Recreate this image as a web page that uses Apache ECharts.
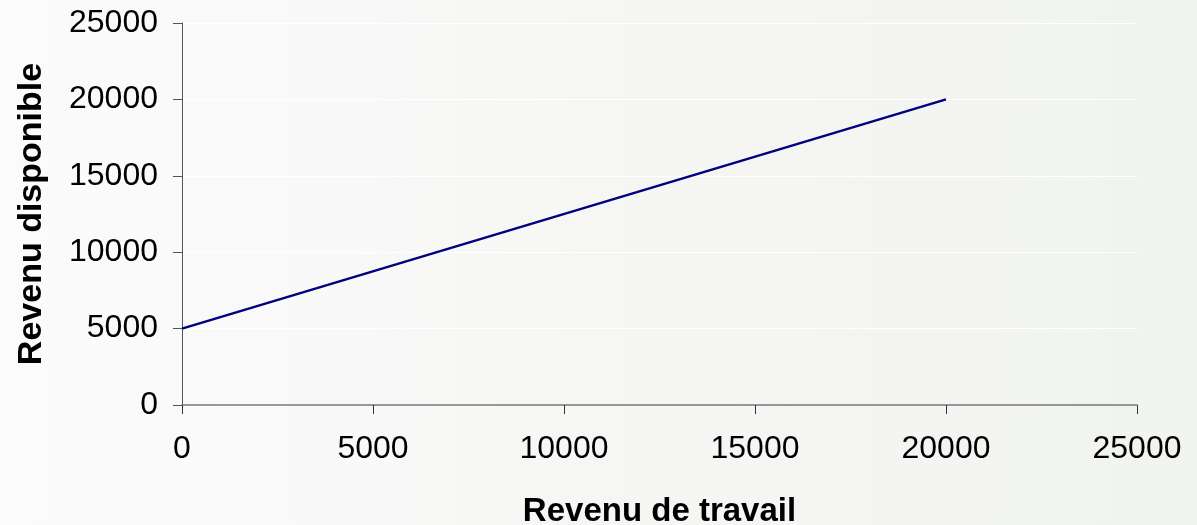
<!DOCTYPE html>
<html>
<head>
<meta charset="utf-8">
<script src="https://cdn.jsdelivr.net/npm/echarts@6/dist/echarts.min.js"></script>
<style>
  html, body { margin: 0; padding: 0; }
  #chart { width: 1197px; height: 525px; }
</style>
</head>
<body>
<div id="chart"></div>
<script>
const revenuTravail = [0, 20000]
const revenuDisponible = [5000, 20000]

const chart = echarts.init(document.getElementById('chart'))

const option = {
  animation: false,
  backgroundColor: new echarts.graphic.LinearGradient(0, 0, 1, 0, [
    { offset: 0, color: '#fbfbfb' },
    { offset: 1, color: '#f1f3ef' },
  ]),
  textStyle: { fontFamily: 'Liberation Sans, Arial, sans-serif' },
  grid: { left: 182, right: 60, top: 23, bottom: 120, outerBoundsMode: 'none', containLabel: false },
  xAxis: {
    type: 'value',
    min: 0,
    max: 25000,
    interval: 5000,
    name: 'Revenu de travail',
    nameLocation: 'middle',
    nameGap: 90,
    nameTextStyle: { fontSize: 33, fontWeight: 'bold', color: '#000' },
    axisLine: { lineStyle: { color: '#777', width: 1.5 } },
    axisTick: { show: true, length: 9, lineStyle: { color: '#333' } },
    axisLabel: { fontSize: 32, color: '#000', margin: 28, formatter: v => String(v) },
    splitLine: { show: false },
  },
  yAxis: {
    type: 'value',
    min: 0,
    max: 25000,
    interval: 5000,
    name: 'Revenu disponible',
    nameLocation: 'middle',
    nameGap: 133,
    nameTextStyle: { fontSize: 34, fontWeight: 'bold', color: '#000' },
    axisLine: { show: true, lineStyle: { color: '#555', width: 1 } },
    axisTick: { show: true, length: 9, lineStyle: { color: '#555' } },
    axisLabel: { fontSize: 32, color: '#000', margin: 24, formatter: v => String(v) },
    splitLine: { show: true, lineStyle: { color: '#ffffff', width: 1 } },
  },
  series: [
    {
      type: 'line',
      data: revenuTravail.map((x, i) => [x, revenuDisponible[i]]),
      showSymbol: false,
      lineStyle: { color: '#000080', width: 2.5 },
    },
  ],
}

chart.setOption(option)
</script>
</body>
</html>
